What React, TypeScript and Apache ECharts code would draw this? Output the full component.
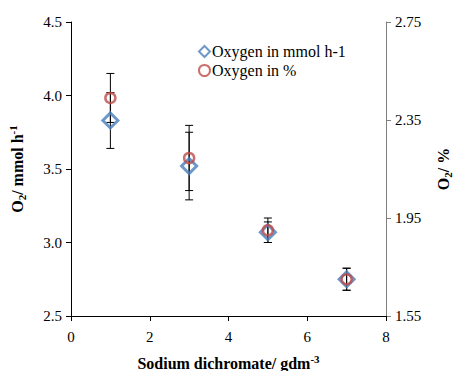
import React, { useEffect, useRef } from "react";
import * as echarts from "echarts";

const xValues = [1, 3, 5, 7];
const mmolValues = [3.83, 3.52, 3.07, 2.75];
const mmolErrors = [0.19, 0.23, 0.07, 0.075];
const pctValues = [2.44, 2.195, 1.9, 1.70];
const pctErrors = [0.1, 0.133, 0.05, 0.045];

const BLUE = "#4a7ebb";
const RED = "#be4b48";
const FONT = "'Liberation Serif', 'Times New Roman', serif";

function errorRender(params: any, api: any) {
  const x = api.value(0);
  const lo = api.value(1);
  const hi = api.value(2);
  const pLo = api.coord([x, lo]);
  const pHi = api.coord([x, hi]);
  const w = 4;
  const style = { stroke: "#000", lineWidth: 1 };
  return {
    type: "group",
    children: [
      { type: "line", shape: { x1: pLo[0], y1: pLo[1], x2: pHi[0], y2: pHi[1] }, style },
      { type: "line", shape: { x1: pLo[0] - w, y1: pLo[1], x2: pLo[0] + w, y2: pLo[1] }, style },
      { type: "line", shape: { x1: pHi[0] - w, y1: pHi[1], x2: pHi[0] + w, y2: pHi[1] }, style },
    ],
  };
}

export default function App() {
  const ref = useRef<HTMLDivElement>(null);
  useEffect(() => {
    if (!ref.current) return;
    const chart = echarts.init(ref.current, undefined, { renderer: "svg" });
    const titleRich = {
      b: { fontFamily: FONT, fontWeight: "bold", fontSize: 16, color: "#000", lineHeight: 20 },
      sub: { fontFamily: FONT, fontWeight: "bold", fontSize: 11, color: "#000", verticalAlign: "bottom", lineHeight: 20 },
      sup: { fontFamily: FONT, fontWeight: "bold", fontSize: 11, color: "#000", verticalAlign: "top", lineHeight: 20 },
    };
    const labelStyle = { fontFamily: FONT, fontSize: 15, color: "#000" };
    chart.setOption({
      animation: false,
      backgroundColor: "#fff",
      grid: { left: 71, right: 68, top: 22, bottom: 55, outerBoundsMode: "none" },
      legend: {
        orient: "vertical",
        left: 193,
        top: 37,
        itemGap: 0,
        itemWidth: 11,
        itemHeight: 11,
        textStyle: { fontFamily: FONT, fontSize: 16, color: "#000", lineHeight: 19, padding: [0, 0, 0, -3] },
        data: [
          { name: "Oxygen in mmol h-1", icon: "diamond", itemStyle: { color: "#fff", borderColor: BLUE, borderWidth: 2 } },
          { name: "Oxygen in %", icon: "circle", itemStyle: { color: "#fff", borderColor: RED, borderWidth: 2 } },
        ],
      },
      xAxis: {
        type: "value",
        min: 0,
        max: 8,
        interval: 2,
        splitLine: { show: false },
        axisLine: { show: true, lineStyle: { color: "#000" } },
        axisTick: { show: true, length: 5, lineStyle: { color: "#000" } },
        axisLabel: { ...labelStyle, margin: 13 },
        name: "{b|Sodium dichromate/ gdm}{sup|-3}",
        nameLocation: "middle",
        nameGap: 37,
        nameTextStyle: { rich: titleRich },
      },
      yAxis: [
        {
          type: "value",
          min: 2.5,
          max: 4.5,
          interval: 0.5,
          position: "left",
          splitLine: { show: false },
          axisLine: { show: true, lineStyle: { color: "#000" } },
          axisTick: { show: true, length: 5, lineStyle: { color: "#000" } },
          axisLabel: { ...labelStyle, margin: 9, formatter: (v: number) => v.toFixed(1) },
          name: "{b|O}{sub|2}{b|/ mmol h}{sup|-1}",
          nameLocation: "middle",
          nameRotate: 90,
          nameGap: 44,
          nameTextStyle: { rich: titleRich },
        },
        {
          type: "value",
          min: 1.55,
          max: 2.75,
          interval: 0.4,
          position: "right",
          splitLine: { show: false },
          axisLine: { show: true, lineStyle: { color: "#7f7f7f" } },
          axisTick: { show: true, length: 5, lineStyle: { color: "#7f7f7f" } },
          axisLabel: { ...labelStyle, margin: 9, formatter: (v: number) => v.toFixed(2) },
          name: "{b|O}{sub|2}{b|/ %}",
          nameLocation: "middle",
          nameRotate: 90,
          nameGap: 47,
          nameTextStyle: { rich: titleRich },
        },
      ],
      series: [
        {
          type: "custom",
          name: "errMmol",
          yAxisIndex: 0,
          renderItem: errorRender,
          encode: { x: 0, y: [1, 2] },
          data: xValues.map((x, i) => [x, mmolValues[i] - mmolErrors[i], mmolValues[i] + mmolErrors[i]]),
          z: 1,
          silent: true,
        },
        {
          type: "custom",
          name: "errPct",
          yAxisIndex: 1,
          renderItem: errorRender,
          encode: { x: 0, y: [1, 2] },
          data: xValues.map((x, i) => [x, pctValues[i] - pctErrors[i], pctValues[i] + pctErrors[i]]),
          z: 1,
          silent: true,
        },
        {
          type: "scatter",
          name: "Oxygen in mmol h-1",
          yAxisIndex: 0,
          symbol: "diamond",
          symbolSize: 15,
          itemStyle: { color: "rgba(255,255,255,0)", borderColor: BLUE, borderWidth: 3 },
          data: xValues.map((x, i) => [x, mmolValues[i]]),
          z: 3,
        },
        {
          type: "scatter",
          name: "Oxygen in %",
          yAxisIndex: 1,
          symbol: "circle",
          symbolSize: 10,
          itemStyle: { color: "rgba(255,255,255,0)", borderColor: RED, borderWidth: 2.5 },
          data: xValues.map((x, i) => [x, pctValues[i]]),
          z: 4,
        },
      ],
    });
    return () => chart.dispose();
  }, []);
  return <div ref={ref} style={{ width: 454, height: 371, position: "absolute", left: 0, top: 0 }} />;
}
